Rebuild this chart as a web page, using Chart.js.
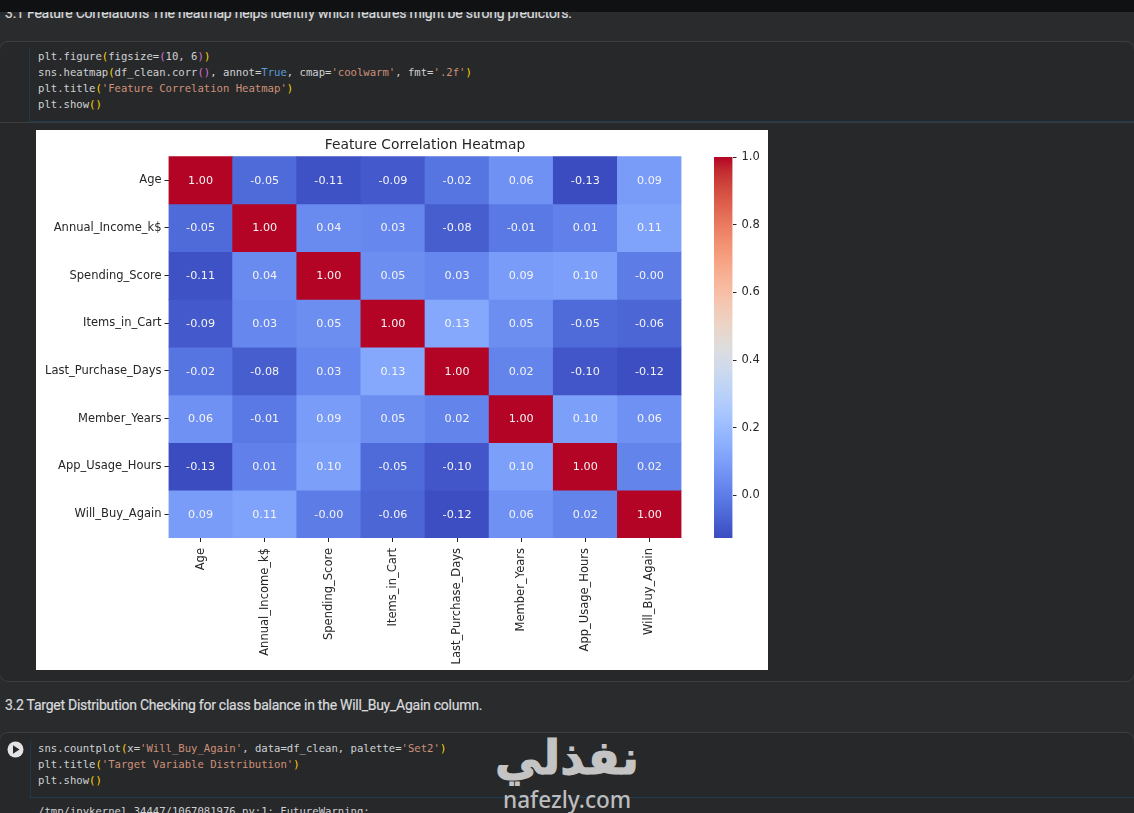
<!DOCTYPE html>
<html>
<head>
<meta charset="utf-8">
<script src="https://cdn.jsdelivr.net/npm/chart.js@4/dist/chart.umd.min.js"></script>
<style>
html,body{margin:0;padding:0;width:1134px;height:813px;overflow:hidden;background:#2a2b2d;}
.abs{position:absolute;}
.md{font-family:Roboto,sans-serif;color:#d8dadc;font-size:14px;white-space:pre;letter-spacing:-0.255px;-webkit-text-stroke:0.2px #d8dadc;}
.cell{left:-1px;width:1136px;border:1.5px solid #3c3e40;border-radius:9px;background:#27282a;box-sizing:border-box;}
.edge{background:#1f3a4d;}
.code{font-family:"DejaVu Sans Mono",monospace;font-size:10.6px;line-height:16px;color:#cfd2d4;white-space:pre;}
.y{color:#ffd700}.p{color:#da70d6}.b{color:#569cd6}.s{color:#ce9178}
#fig{left:36px;top:130px;width:732px;height:540px;background:#fff;}
#heat{left:36px;top:130px;}
#bar{left:700px;top:130px;}
#wm1{left:495px;top:728px;font-family:"DejaVu Sans",sans-serif;font-weight:bold;font-size:47px;color:#c4c4c4;-webkit-text-stroke:1.2px #c4c4c4;white-space:pre;line-height:60px;}
#wm2{left:503px;top:786px;font-family:"Noto Sans",sans-serif;font-weight:500;font-size:22.6px;color:#bdbdbd;white-space:pre;line-height:28px;}
</style>
</head>
<body>
<div class="abs md" style="left:5px;top:5px;letter-spacing:-0.22px;">3.1 Feature Correlations The heatmap helps identify which features might be strong predictors.</div>
<div class="abs" style="left:0;top:0;width:1134px;height:11.5px;background:#101112;"></div>

<div class="abs cell" style="top:41px;height:641px;"></div>
<div class="abs" style="left:0;top:122px;width:1134px;height:1px;background:#3a3c3e;"></div>
<div class="abs edge" style="left:29px;top:48px;width:1px;height:74px;"></div>
<div class="abs edge" style="left:29px;top:121px;width:1105px;height:1px;"></div>
<div class="abs code" style="left:38px;top:48px;">plt.figure<span class="y">(</span>figsize=<span class="p">(</span>10, 6<span class="p">)</span><span class="y">)</span>
sns.heatmap<span class="y">(</span>df_clean.corr<span class="p">()</span>, annot=<span class="b">True</span>, cmap=<span class="s">'coolwarm'</span>, fmt=<span class="s">'.2f'</span><span class="y">)</span>
plt.title<span class="y">(</span><span class="s">'Feature Correlation Heatmap'</span><span class="y">)</span>
plt.show<span class="y">()</span></div>

<div class="abs" id="fig"></div>
<canvas class="abs" id="heat" width="732" height="540"></canvas>
<canvas class="abs" id="bar" width="68" height="540"></canvas>

<div class="abs md" style="left:5px;top:697px;">3.2 Target Distribution Checking for class balance in the Will_Buy_Again column.</div>

<div class="abs cell" style="top:732px;height:100px;"></div>
<div class="abs edge" style="left:30px;top:741px;width:1px;height:56px;"></div>
<div class="abs edge" style="left:30px;top:797px;width:1104px;height:1px;"></div>
<svg class="abs" style="left:5.5px;top:740px;" width="19" height="19"><circle cx="9.5" cy="9.5" r="8" fill="#e4e4e4"/><path d="M7 5.2 L13.5 9.5 L7 13.8 Z" fill="#27282a"/></svg>
<div class="abs code" style="left:38px;top:740px;">sns.countplot<span class="y">(</span>x=<span class="s">'Will_Buy_Again'</span>, data=df_clean, palette=<span class="s">'Set2'</span><span class="y">)</span>
plt.title<span class="y">(</span><span class="s">'Target Variable Distribution'</span><span class="y">)</span>
plt.show<span class="y">()</span></div>
<div class="abs code" style="left:9px;top:803px;font-weight:bold;">...</div>
<div class="abs code" style="left:38px;top:803px;">/tmp/ipykernel_34447/1067081976.py:1: FutureWarning:</div>

<div class="abs" id="wm1">نفذلي</div>
<div class="abs" id="wm2">nafezly.com</div>

<script>
const featureLabels = ['Age','Annual_Income_k$','Spending_Score','Items_in_Cart','Last_Purchase_Days','Member_Years','App_Usage_Hours','Will_Buy_Again'];
const ageRow      = [1.00,-0.05,-0.11,-0.09,-0.02,0.06,-0.126,0.09];
const incomeRow   = [-0.05,1.00,0.04,0.03,-0.08,-0.01,0.01,0.11];
const spendingRow = [-0.11,0.04,1.00,0.05,0.03,0.09,0.10,-0.001];
const itemsRow    = [-0.09,0.03,0.05,1.00,0.13,0.05,-0.05,-0.06];
const lastRow     = [-0.02,-0.08,0.03,0.13,1.00,0.02,-0.10,-0.12];
const memberRow   = [0.06,-0.01,0.09,0.05,0.02,1.00,0.10,0.06];
const appRow      = [-0.126,0.01,0.10,-0.05,-0.10,0.10,1.00,0.02];
const willRow     = [0.09,0.11,-0.001,-0.06,-0.12,0.06,0.02,1.00];
const correlationRows = [ageRow,incomeRow,spendingRow,itemsRow,lastRow,memberRow,appRow,willRow];
const colorbarTicks = [0,0.2,0.4,0.6,0.8,1.0];

const coolwarm = [[59,76,192],[68,90,204],[77,104,215],[87,117,225],[98,130,234],[108,142,241],[119,154,247],[130,165,251],[141,176,254],[152,185,255],[163,194,255],[174,201,253],[184,208,249],[194,213,244],[204,217,238],[213,219,230],[221,221,221],[229,216,209],[236,211,197],[241,204,185],[245,196,173],[247,187,160],[247,177,148],[247,166,135],[244,154,123],[241,141,111],[236,127,99],[229,112,88],[222,96,77],[213,80,66],[203,62,56],[192,40,47],[180,4,38]];
const vmin = Math.min(...correlationRows.flat());
const vmax = Math.max(...correlationRows.flat());
function cmapAt(t){
  const p = Math.max(0,Math.min(1,t))*(coolwarm.length-1);
  const i = Math.min(Math.floor(p),coolwarm.length-2), f = p-i;
  const c = coolwarm[i].map((a,k)=>Math.round(a+(coolwarm[i+1][k]-a)*f));
  return `rgb(${c[0]},${c[1]},${c[2]})`;
}
const colorFor = v => cmapAt((v-vmin)/(vmax-vmin));
const inkColor = '#262626';
const sansFont = '"DejaVu Sans"';
const tickFontSize = 11.5;

const annotate = {
  id:'annotate',
  afterDatasetsDraw(chart){
    const c = chart.ctx;
    c.save();
    c.fillStyle='#f4f4f4';
    c.font=`11.2px ${sansFont}`;
    c.textAlign='center';c.textBaseline='middle';
    correlationRows.forEach((row,r)=>{
      const meta = chart.getDatasetMeta(r);
      row.forEach((v,k)=>{
        const el = meta.data[k];
        c.fillText(v.toFixed(2), el.x, (el.y+el.base)/2+0.6);
      });
    });
    c.restore();
  }
};

new Chart(document.getElementById('heat'),{
  type:'bar',
  plugins:[annotate],
  data:{
    labels:featureLabels,
    datasets:correlationRows.map((row,r)=>({
      label:featureLabels[r],
      data:row.map(()=>[r,r+1]),
      backgroundColor:row.map(colorFor),
      borderWidth:0,
      grouped:false,
      barPercentage:1,
      categoryPercentage:1
    }))
  },
  options:{
    responsive:false,animation:false,
    layout:{padding:{top:0,right:86.5,bottom:0,left:0}},
    plugins:{
      legend:{display:false},tooltip:{enabled:false},
      title:{display:true,text:'Feature Correlation Heatmap',fullSize:false,color:inkColor,
        font:{family:sansFont,size:13.8,weight:'normal',lineHeight:1.2},padding:{top:7.5,bottom:2.2}}
    },
    scales:{
      x:{
        type:'category',
        grid:{drawOnChartArea:false,drawTicks:true,tickLength:4,color:inkColor,tickWidth:1,offset:false},
        border:{display:false},
        ticks:{color:inkColor,font:{family:sansFont,size:tickFontSize},minRotation:90,maxRotation:90,autoSkip:false,padding:6},
        afterFit(s){s.height=132;}
      },
      y:{
        type:'linear',min:0,max:8,reverse:true,
        grid:{drawOnChartArea:false,drawTicks:true,tickLength:4,color:inkColor,tickWidth:1},
        border:{display:false},
        afterBuildTicks(s){s.ticks=featureLabels.map((_,i)=>({value:i+0.5}));},
        ticks:{color:inkColor,font:{family:sansFont,size:tickFontSize},autoSkip:false,padding:3,
          callback:v=>featureLabels[Math.round(v-0.5)]},
        afterFit(s){s.width=132.5;}
      }
    }
  }
});

new Chart(document.getElementById('bar'),{
  type:'bar',
  data:{
    labels:['correlation'],
    datasets:[{
      data:[[vmin,vmax]],
      borderWidth:0,barPercentage:1,categoryPercentage:1,
      backgroundColor(ctx){
        const a = ctx.chart.chartArea;
        if(!a) return '#888';
        const g = ctx.chart.ctx.createLinearGradient(0,a.bottom,0,a.top);
        coolwarm.forEach((c,i)=>g.addColorStop(i/(coolwarm.length-1),`rgb(${c[0]},${c[1]},${c[2]})`));
        return g;
      }
    }]
  },
  options:{
    responsive:false,animation:false,
    layout:{padding:{top:27,right:0,bottom:132,left:14}},
    plugins:{legend:{display:false},tooltip:{enabled:false}},
    scales:{
      x:{display:false},
      y:{
        type:'linear',position:'right',min:vmin,max:vmax,
        grid:{drawOnChartArea:false,drawTicks:true,tickLength:4,color:inkColor},
        border:{display:false},
        afterBuildTicks(s){s.ticks=colorbarTicks.map(v=>({value:v}));},
        ticks:{color:inkColor,font:{family:sansFont,size:tickFontSize},padding:5,callback:v=>v.toFixed(1)},
        afterFit(s){s.width=35.5;}
      }
    }
  }
});
</script>
</body>
</html>
